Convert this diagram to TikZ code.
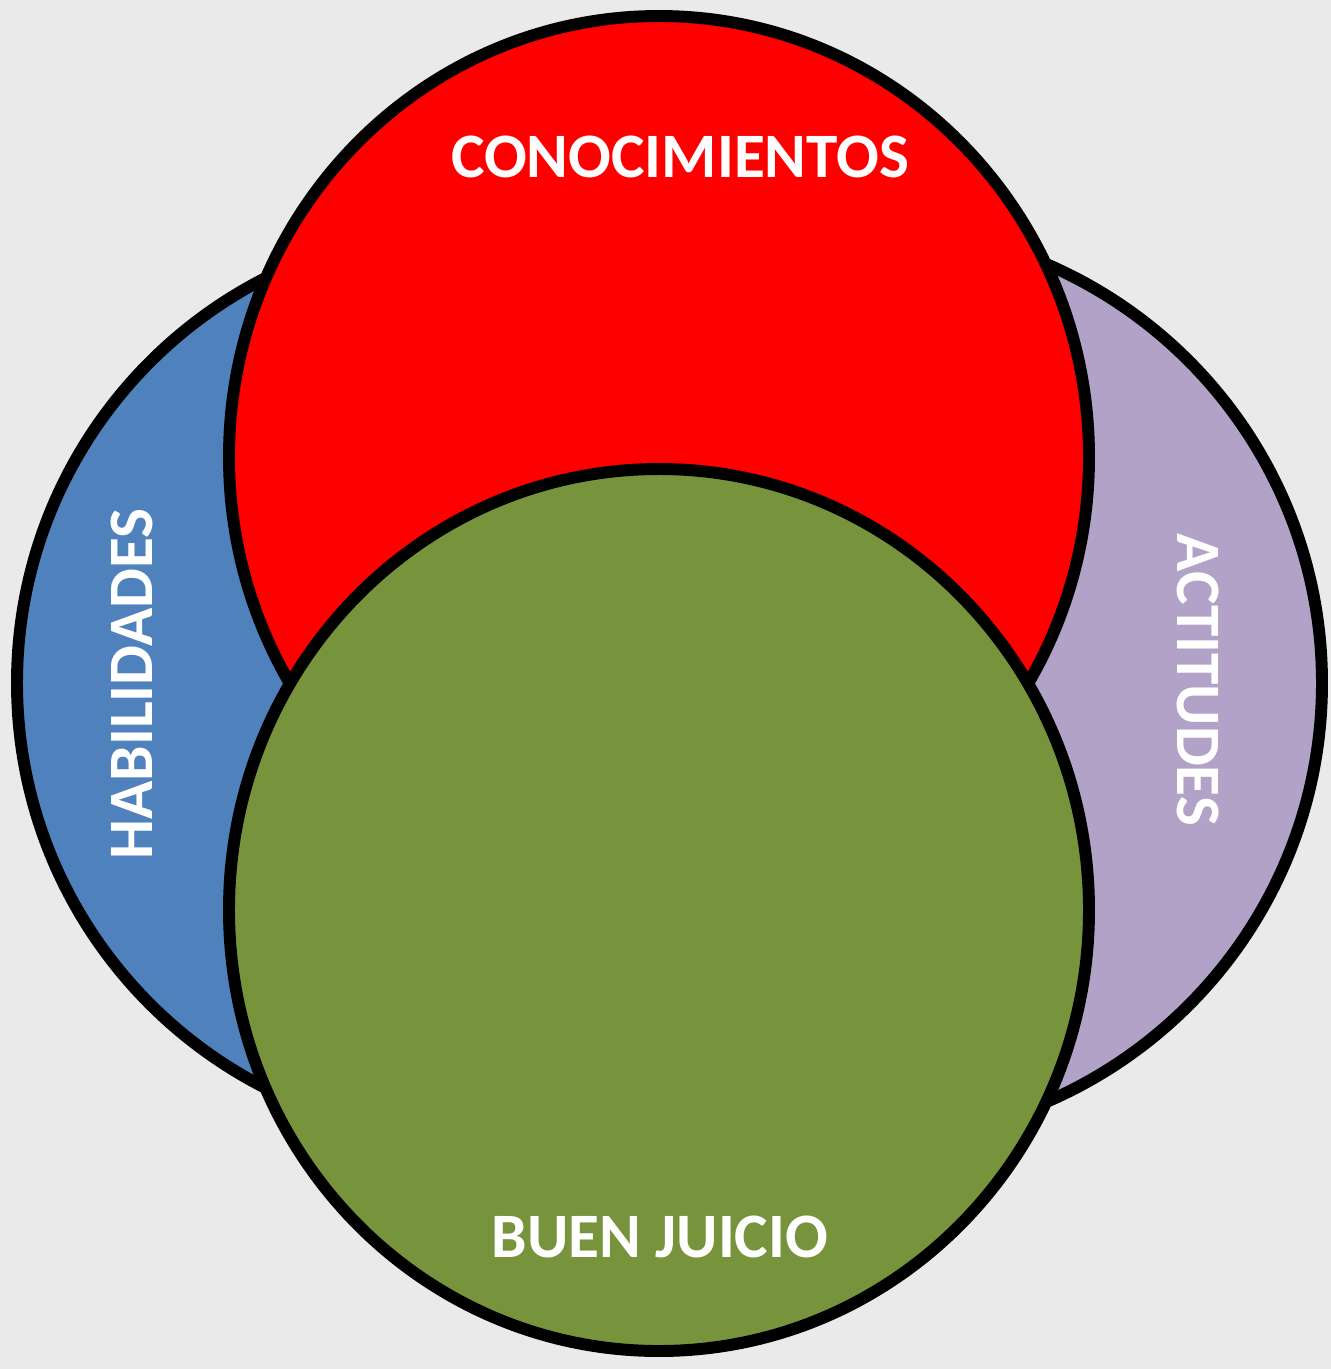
\documentclass[tikz,border=0pt]{standalone}
\usepackage{fontspec}
\setmainfont{Carlito}
\usepackage{tikz}
\usetikzlibrary{positioning}

\definecolor{fondo}{RGB}{234,234,234}
\definecolor{azul}{RGB}{79,129,189}
\definecolor{lila}{RGB}{178,162,199}
\definecolor{rojo}{RGB}{255,0,0}
\definecolor{verde}{RGB}{119,147,60}

\begin{document}
\begin{tikzpicture}[x=0.01cm, y=-0.01cm,
                        circulo/.style={draw=black, line width=3.4pt},
                        etiqueta/.style={text=white, font=\fontsize{18}{18}\selectfont\bfseries,
                                         inner sep=0pt, text depth=0pt}]

        \fill[fondo] (0,0) rectangle (1331,1369);
        \useasboundingbox (0,0) rectangle (1331,1369);

        % circulos de atras
        \draw[circulo, fill=azul] (471,683) circle (454);
        \draw[circulo, fill=lila] (866,683) circle (456);
        % circulos de adelante
        \draw[circulo, fill=rojo] (659,457) ellipse (430 and 441);
        \draw[circulo, fill=verde] (659,910) ellipse (430 and 441);

        \node[etiqueta] (conoc) at (680,157) {CONOCIMIENTOS};
        \node[etiqueta] (juicio) at (660,1237) {BUEN JUICIO};
        \node[etiqueta, rotate=90] (habil) at (132,684) {HABILIDADES};
        \node[etiqueta, rotate=-90] (actit) at (1198,680) {ACTITUDES};
    \end{tikzpicture}
\end{document}
